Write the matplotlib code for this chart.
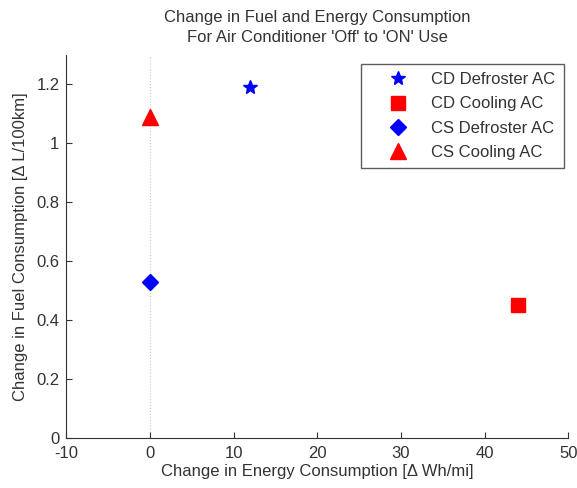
import matplotlib.pyplot as plt

plt.rcParams['font.family'] = ['Liberation Sans', 'DejaVu Sans']
plt.rcParams['axes.unicode_minus'] = False

labels = ['CD Defroster AC', 'CD Cooling AC', 'CS Defroster AC', 'CS Cooling AC']
energy = [12, 44, 0, 0]
fuel = [1.19, 0.45, 0.53, 1.09]
markers = ['*', 's', 'D', '^']
colors = ['#0000ff', '#ff0000', '#0000ff', '#ff0000']
sizes = [10, 10, 8.5, 12]

fig = plt.figure(figsize=(5.77, 4.88), dpi=100)
ax = fig.add_axes([0.115, 0.1025, 0.870, 0.785])

# dotted guide through x = 0
ax.axvline(0, color='#c8c8c8', linestyle=':', linewidth=0.8, zorder=0)
for x, y, m, c, s, lab in zip(energy, fuel, markers, colors, sizes, labels):
    ax.plot(x, y, linestyle='none', marker=m, color=c, markersize=s, label=lab)

ax.set_xlim(-10, 50)
ax.set_ylim(0, 1.3)
ax.set_xticks(range(-10, 51, 10))
ax.set_yticks([0, 0.2, 0.4, 0.6, 0.8, 1, 1.2])
ax.set_yticklabels(['0', '0.2', '0.4', '0.6', '0.8', '1', '1.2'])
ax.tick_params(direction='in', labelsize=12, colors='#333333', length=4)
ax.tick_params(axis='x', pad=6)
ax.tick_params(axis='y', pad=5)
for side in ['top', 'right']:
    ax.spines[side].set_visible(False)
for side in ['left', 'bottom']:
    ax.spines[side].set_color('#333333')

ax.set_xlabel('Change in Energy Consumption [\u0394 Wh/mi]', fontsize=12, color='#333333', labelpad=2)
ax.set_ylabel('Change in Fuel Consumption [\u0394 L/100km]', fontsize=12, color='#333333', labelpad=6)
ax.set_title("Change in Fuel and Energy Consumption\nFor Air Conditioner 'Off' to 'ON' Use",
             fontsize=12, color='#333333', pad=9, linespacing=1.45)

leg = ax.legend(loc='upper right', bbox_to_anchor=(0.991, 0.9765), fontsize=12, fancybox=False,
                edgecolor='#333333', borderpad=0.5, labelspacing=0.55, handletextpad=0.3,
                handlelength=3.4, borderaxespad=0)
leg.get_frame().set_linewidth(1.0)
for t in leg.get_texts():
    t.set_color('#333333')

fig.savefig('out.png', dpi=100)
